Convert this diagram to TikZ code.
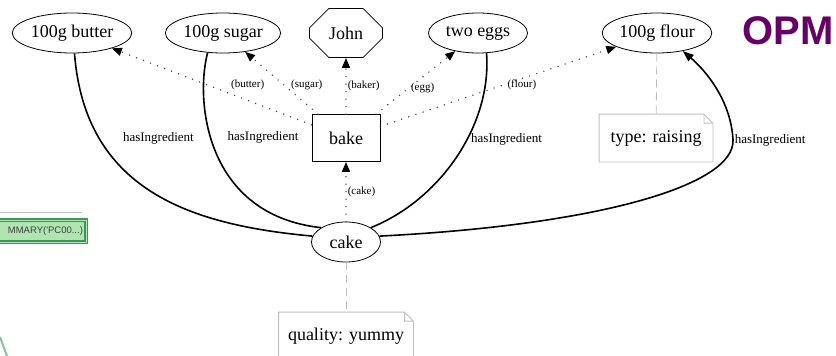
\documentclass[tikz,border=0pt]{standalone}
\usepackage{fontspec}
\setmainfont{Liberation Serif}
\newfontfamily\opmfont{Liberation Sans}
\usepackage{tikz}
\usetikzlibrary{arrows.meta,shapes.geometric,shapes.misc}
\definecolor{opmpurple}{RGB}{102,0,102}
\definecolor{notegray}{RGB}{190,190,190}
\definecolor{usedgray}{RGB}{70,70,70}
\definecolor{screengreen}{RGB}{176,228,176}
\definecolor{screenedge}{RGB}{60,150,90}
\tikzset{font=\fontsize{18}{21}\selectfont}
\tikzset{every picture/.style={line width=0.8pt}}
\tikzstyle{artifact}=[ellipse,draw,inner xsep=1pt,minimum width=69pt,minimum height=40pt]
\tikzstyle{agent}=[chamfered rectangle,draw,chamfered rectangle xsep=18pt,chamfered rectangle ysep=13pt,minimum width=73pt,minimum height=49pt,inner sep=0pt]
\tikzstyle{process}=[rectangle,draw,minimum width=68pt,minimum height=47pt]
\tikzstyle{notebox}=[rectangle,minimum width=113pt,minimum height=47pt]
\tikzstyle{used}=[draw=usedgray,line width=1.6pt,line cap=round,dash pattern=on 0pt off 7.5pt,-{Triangle[length=10pt,width=8pt,black]}]
\tikzstyle{ingredient}=[draw,line width=1.6pt,-{Triangle[length=11pt,width=8pt]}]
\tikzstyle{notelink}=[draw=notegray,dash pattern=on 8pt off 5pt]
% folded corner of a note
\newcommand{\notefold}[1]{%
  \draw[notegray] (#1.south west) -- (#1.north west) -- ([xshift=-9pt]#1.north east)
    -- ([yshift=-9pt]#1.north east) -- (#1.south east) -- cycle
    ([xshift=-9pt]#1.north east) |- ([yshift=-9pt]#1.north east);}

\begin{document}
\begin{tikzpicture}[x=1pt,y=-1pt]
\useasboundingbox (0,0) rectangle (836,356);
\node[artifact] (butter) at (72,33) {100g butter};
\node[artifact] (sugar) at (223,33) {100g sugar};
\node[agent] (john) at (346,33) {John};
\node[artifact,minimum width=99pt] (eggs) at (478,33) {two eggs};
\node[artifact] (flour) at (657,33) {100g flour};
\node[process] (bake) at (346,138) {bake};
\node[artifact] (cake) at (346,242) {cake};
\node[notebox] (raising) at (656,138) {type: raising};
\node[notebox,minimum width=134pt] (yummy) at (346,336) {quality: yummy};
\node[font=\opmfont\bfseries\fontsize{40}{40}\selectfont,text=opmpurple] (opm) at (788,31) {OPM};
%\node (summary) ... left part of the slide
\node[draw=screenedge,fill=screengreen,line width=1.5pt,double=screengreen,double distance=0.6pt,
  font=\opmfont\fontsize{9.5}{10}\selectfont,text=black!75,minimum height=22pt,anchor=east] (summary) at (87,231) {\hspace*{20pt}MMARY('PC00...)};
\draw[notegray,line width=0.5pt] (0,212) -- (82,212);
\draw[screenedge!60,line width=2pt] (0,337) -- (7,356);

\path[used,font=\fontsize{11}{12}\selectfont]
(bake) edge node[pos=.32,yshift=15pt] {(butter)} (butter)
(bake) edge node[pos=.47,xshift=23pt] {(sugar)} (sugar)
(bake) edge node[right,inner sep=1pt] {(baker)} (john)
(bake) edge node[pos=.42,right,inner sep=1pt] {(egg)} (eggs)
(bake) edge node[pos=.6,yshift=-6pt] {(flour)} (flour)
(cake) edge node[right,inner sep=1pt] {(cake)} (bake);

\path[ingredient,font=\fontsize{13}{14}\selectfont]
(cake.170) .. controls (190,225) and (85,190) .. (butter.277) node[pos=.75,right=20pt] {hasIngredient}
(cake.150) .. controls (205,215) and (195,100) .. (sugar.232) node[pos=.57,right=13pt] {hasIngredient}
(cake.30) .. controls (440,200) and (492,125) .. (eggs.293) node[pos=.59,right] {hasIngredient}
(cake.10) .. controls (600,225) and (735,185) .. (733,140) node[right,inner xsep=1pt] {hasIngredient}
  .. controls (731,100) and (705,70) .. (flour.325);

\draw[notelink] (flour) -- (raising);
\draw[notelink] (cake) -- (yummy);
\notefold{raising}
\notefold{yummy}
\end{tikzpicture}
\end{document}
